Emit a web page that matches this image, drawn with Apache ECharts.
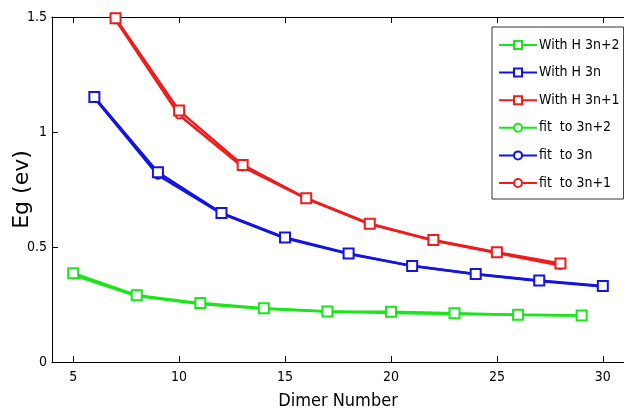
<!DOCTYPE html>
<html>
<head>
	<meta charset="utf-8" />
	<title>Eg vs Dimer Number</title>
	<script src="https://cdn.jsdelivr.net/npm/echarts@6/dist/echarts.min.js"></script>
	<style>
		html, body { margin: 0; padding: 0; background: #fff; }
	</style>
</head>
<body>
	<div id="main" style="width: 624px;height: 413px;"></div>

	<script type="text/javascript">
		// dimer numbers per family
		var x3n2 = [5, 8, 11, 14, 17, 20, 23, 26, 29];
		var x3n  = [6, 9, 12, 15, 18, 21, 24, 27, 30];
		var x3n1 = [7, 10, 13, 16, 19, 22, 25, 28];

		// band gaps with H (ev)
		var withH3n2 = [0.386, 0.290, 0.256, 0.234, 0.220, 0.219, 0.212, 0.205, 0.202];
		var withH3n  = [1.152, 0.825, 0.648, 0.541, 0.472, 0.417, 0.383, 0.354, 0.330];
		var withH3n1 = [1.495, 1.093, 0.857, 0.712, 0.601, 0.530, 0.477, 0.428];

		// fitted curves
		var fit3n2 = [0.378, 0.287, 0.252, 0.232, 0.220, 0.213, 0.209, 0.205, 0.202];
		var fit3n  = [1.148, 0.812, 0.645, 0.538, 0.470, 0.418, 0.382, 0.352, 0.328];
		var fit3n1 = [1.488, 1.074, 0.848, 0.710, 0.600, 0.528, 0.474, 0.420];

		var xTicks = [5, 10, 15, 20, 25, 30];

		var GREEN = '#19e619', BLUE = '#1414e0', RED = '#ee1c1c';
		var FONT = '"Liberation Sans Narrow", "DejaVu Sans Condensed", "Liberation Sans", Arial, sans-serif';

		function pairs(xs, ys) {
			var out = [];
			for (var i = 0; i < xs.length; i++) out.push([xs[i], ys[i]]);
			return out;
		}

		function line(name, xs, ys, color, symbol, size) {
			return {
				name: name,
				type: 'line',
				data: pairs(xs, ys),
				symbol: symbol,
				symbolSize: size,
				showSymbol: true,
				color: color,
				lineStyle: { width: 2.5, color: color },
				itemStyle: { color: color, borderWidth: 1.6 },
				animation: false
			};
		}

		var myChart = echarts.init(document.getElementById('main'));

		var axisLineStyle = { color: '#000', width: 1 };

		var option = {
			backgroundColor: '#fff',
			grid: { left: 52, right: 0, top: 17, bottom: 51, outerBoundsMode: 'none', containLabel: false },
			legend: {
				orient: 'vertical',
				left: 492,
				top: 27,
				backgroundColor: '#fff',
				borderColor: '#333',
				borderWidth: 1,
				borderRadius: 0,
				padding: [10, 4, 8, 6],
				itemWidth: 38,
				itemHeight: 10,
				itemGap: 11.6,
				textStyle: { fontFamily: FONT, fontSize: 14, lineHeight: 16, color: '#000', padding: [0, 0, 0, -3] },
				data: ['With H 3n+2', 'With H 3n', 'With H 3n+1', 'fit  to 3n+2', 'fit  to 3n', 'fit  to 3n+1']
			},
			xAxis: [{
				type: 'value',
				min: 4,
				max: 31,
				name: 'Dimer Number',
				nameLocation: 'middle',
				nameGap: 30,
				nameMoveOverlap: false,
				nameTextStyle: { fontFamily: FONT, fontSize: 18, color: '#000' },
				axisLine: { lineStyle: axisLineStyle },
				axisTick: { inside: true, length: 6, customValues: xTicks, lineStyle: { color: '#000' } },
				axisLabel: { customValues: xTicks, fontFamily: FONT, fontSize: 14, color: '#000', margin: 8 },
				splitLine: { show: false }
			}, {
				type: 'value',
				position: 'top',
				min: 4,
				max: 31,
				axisLine: { show: true, lineStyle: axisLineStyle },
				axisTick: { inside: true, length: 6, customValues: xTicks, lineStyle: { color: '#000' } },
				axisLabel: { show: false },
				splitLine: { show: false }
			}],
			yAxis: {
				type: 'value',
				min: 0,
				max: 1.5,
				interval: 0.5,
				name: 'Eg (ev)',
				nameLocation: 'middle',
				nameGap: 19,
				nameMoveOverlap: false,
				nameTextStyle: { fontFamily: '"DejaVu Sans", sans-serif', fontSize: 22, color: '#000' },
				axisLine: { show: true, lineStyle: axisLineStyle },
				axisTick: { inside: true, length: 6, lineStyle: { color: '#000' } },
				axisLabel: { fontFamily: FONT, fontSize: 14, color: '#000', margin: 5 },
				splitLine: { show: false }
			},
			series: [
				line('fit  to 3n+2', x3n2, fit3n2, GREEN, 'emptyCircle', 7),
				line('fit  to 3n', x3n, fit3n, BLUE, 'emptyCircle', 7),
				line('fit  to 3n+1', x3n1, fit3n1, RED, 'emptyCircle', 7),
				line('With H 3n+2', x3n2, withH3n2, GREEN, 'emptyRect', 10),
				line('With H 3n', x3n, withH3n, BLUE, 'emptyRect', 10),
				line('With H 3n+1', x3n1, withH3n1, RED, 'emptyRect', 10)
			]
		};

		myChart.setOption(option);
	</script>
</body>
</html>
